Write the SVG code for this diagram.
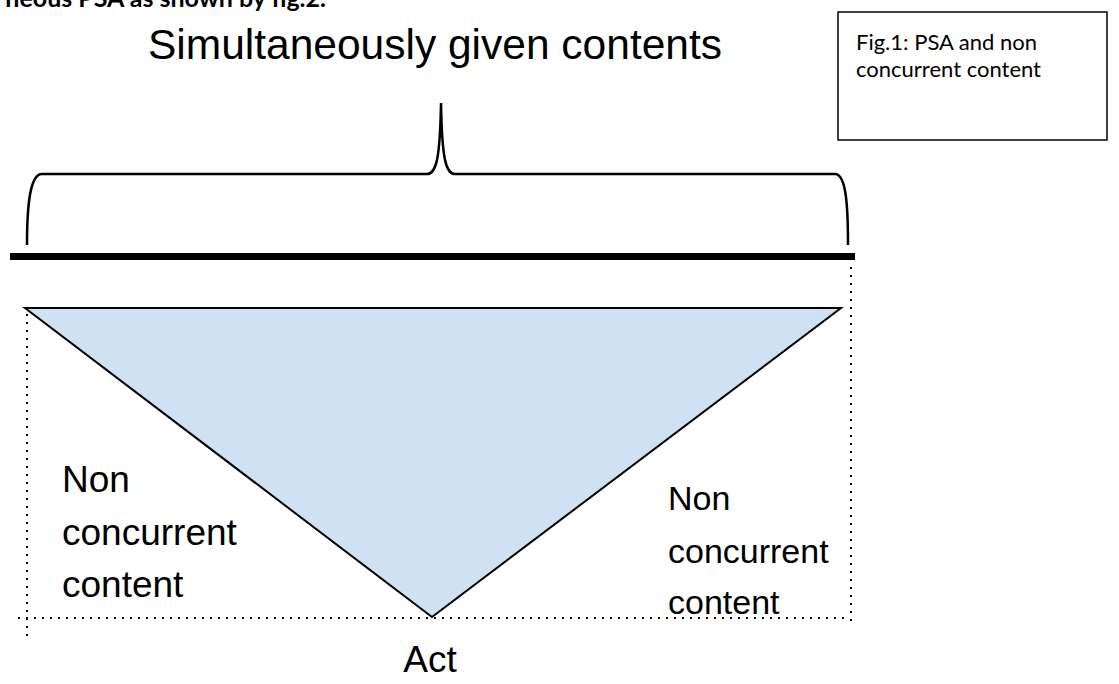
<svg xmlns="http://www.w3.org/2000/svg" width="1119" height="684" viewBox="0 0 1119 684">
  <style>
    .lbl { font-family: "Liberation Sans", Arial, sans-serif; font-size: 37px; fill: #000; }
    .title { font-size: 42.5px; }
    .small { font-size: 34px; }
    .note { font-family: Lato, "Open Sans", sans-serif; font-size: 22px; fill: #000; }
    .page { font-size: 25px; font-weight: 700; }
    .dot { stroke: #000; stroke-width: 2; stroke-dasharray: 2 6; fill: none; }
  </style>

  <rect width="1119" height="684" fill="#fff"/>

  <!-- running text of the page, cut by the top edge -->
  <text class="note page" x="326" y="7" text-anchor="end">neous PSA as shown by fig.2.</text>

  <!-- caption box -->
  <g id="caption">
    <rect x="838" y="12" width="269" height="128" fill="#fff" stroke="#000" stroke-width="1.5"/>
    <text class="note" x="856" y="50">Fig.1: PSA and non</text>
    <text class="note" x="856" y="77">concurrent content</text>
  </g>

  <!-- heading over the brace -->
  <g id="heading">
    <text class="lbl title" x="435" y="59" text-anchor="middle">Simultaneously given contents</text>
  </g>

  <!-- curly brace spanning the line -->
  <g id="brace">
    <path d="M27,245 C27,205 30,174 42,174 L427,174 C436,174 440,160 441,103 C442,160 446,174 455,174 L835,174 C846,174 848,205 848,245"
          fill="none" stroke="#000" stroke-width="2.5"/>
  </g>

  <!-- thick bar -->
  <g id="bar">
    <rect x="10" y="253" width="845" height="7" fill="#000"/>
  </g>

  <!-- content triangle converging on the act -->
  <g id="triangle">
    <polygon points="25,308 841,308 432,617" fill="#cfe2f3" stroke="#000" stroke-width="2" stroke-linejoin="miter"/>
  </g>

  <!-- dotted guide lines -->
  <g id="guides">
    <line class="dot" x1="27" y1="314" x2="27" y2="638"/>
    <line class="dot" x1="851" y1="267" x2="851" y2="623"/>
    <line class="dot" x1="18" y1="618" x2="848" y2="618"/>
  </g>

  <g id="left-label">
    <text class="lbl" x="62" y="492">Non</text>
    <text class="lbl" x="62" y="545">concurrent</text>
    <text class="lbl" x="62" y="597">content</text>
  </g>

  <g id="right-label">
    <text class="lbl small" x="668" y="510">Non</text>
    <text class="lbl small" x="668" y="563">concurrent</text>
    <text class="lbl small" x="668" y="614">content</text>
  </g>

  <g id="act">
    <text class="lbl" x="430" y="672" text-anchor="middle">Act</text>
  </g>
</svg>
